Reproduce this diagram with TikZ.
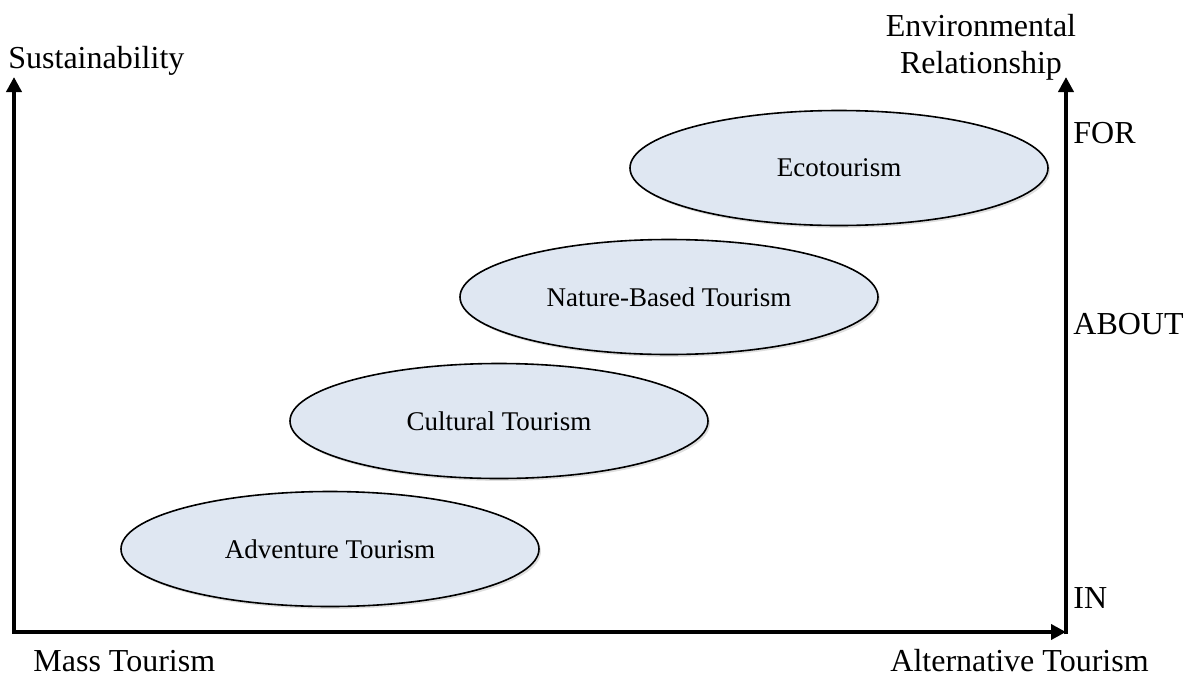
\documentclass[tikz,border=0pt]{standalone}
\usepackage{fontspec}
\setmainfont{Liberation Serif}
\usepackage{tikz}
\usetikzlibrary{arrows.meta,shapes.geometric,shadows}
\definecolor{ovalfill}{RGB}{223,231,242}

\tikzset{
	oval/.style={ellipse, draw, thick, fill=ovalfill, minimum width=209pt, minimum height=57.5pt,
		drop shadow={opacity=0.25, shadow xshift=1pt, shadow yshift=-1.2pt},
		font=\fontsize{13.5}{16}\selectfont},
	axis/.style={line width=2.4pt, -{Triangle[length=7.5pt, width=7.5pt]}},
	axlabel/.style={font=\fontsize{16}{18.5}\selectfont, inner sep=0pt}
}

\begin{document}
\begin{tikzpicture}[x=0.5pt, y=-0.5pt]
	\useasboundingbox (0,0) rectangle (1185,676);
	
	\coordinate (O) at (14, 632);
	\coordinate (Y) at (14, 77);
	\coordinate (X) at (1066, 632);
	\coordinate (R) at (1066, 77);
	
	% axes
	\draw[axis, {Triangle[length=7.5pt, width=7.5pt]}-{Triangle[length=7.5pt, width=7.5pt]}, line join=miter] (Y) -- (O) -- (X);
	\draw[axis] ([yshift=-1.2pt]X) -- (R);
	
	\foreach \n/\x/\y/\t in {eco/839/168/Ecotourism, nat/669/297/Nature-Based Tourism, cul/499/421/Cultural Tourism, adv/330/549/Adventure Tourism} {
		\node[oval] (\n) at (\x, \y) {\t};
	}
	
	\node[axlabel, anchor=base west] (sus) at (8, 68) {Sustainability};
	\node[axlabel, align=center] (env) at (981, 47) {Environmental\\Relationship};
	\node[axlabel, anchor=base west] (for) at (1073, 143) {FOR};
	\node[axlabel, anchor=base west] (about) at (1073, 334) {ABOUT};
	\node[axlabel, anchor=base west] (in) at (1073, 608) {IN};
	\node[axlabel, anchor=base west] (mass) at (33, 671) {Mass Tourism};
	\node[axlabel, anchor=base east] (alt) at (1149, 671) {Alternative Tourism};
	
\end{tikzpicture}
\end{document}
